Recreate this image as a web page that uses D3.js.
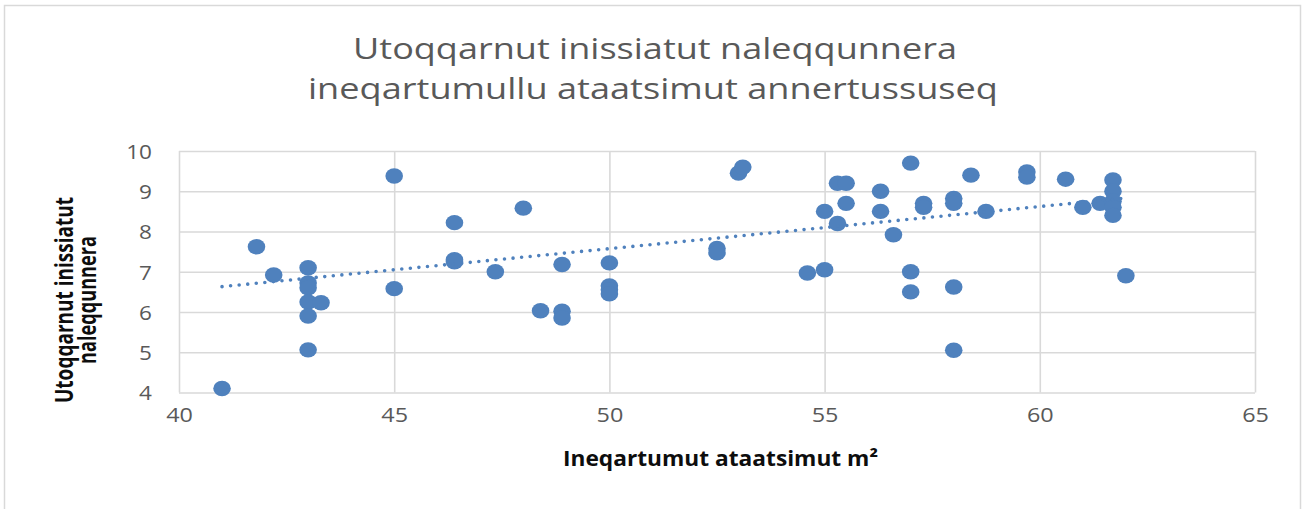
<!DOCTYPE html>
<html lang="kl">
  <head>
    <meta charset="utf-8" />
    <title>Utoqqarnut inissiatut</title>
    <style>
      body { margin: 0; background: #fff; }
      svg { display: block; }
    </style>
  </head>
  <body>
    <svg id="chart"></svg>
    <script src="https://cdn.jsdelivr.net/npm/d3@7"></script>
    <script>
        var width = 1303;
        var height = 509;

        // ineqartumut ataatsimut m2 (x) and naleqqunnera (y)
        var area = [41.0, 41.8, 42.2, 43, 43, 43, 43, 43.3, 43, 43,
                    45, 45, 46.4, 46.4, 46.4, 47.35, 48, 48.4, 48.9, 48.9,
                    48.9, 50, 50, 50, 50, 52.5, 52.5, 53, 53.1, 54.6,
                    55, 55, 55.3, 55.3, 55.5, 55.5, 56.3, 56.3, 56.6, 57,
                    57, 57, 57.3, 57.3, 58, 58, 58, 58, 58.4, 58.75,
                    59.7, 59.7, 60.6, 61, 61.4, 61.7, 61.7, 61.7, 61.7, 61.7,
                    62];
        var rating = [4.1, 7.62, 6.92, 7.1, 6.72, 6.6, 6.25, 6.23, 5.9, 5.06,
                      9.38, 6.58, 8.22, 7.3, 7.25, 7.0, 8.58, 6.03, 7.18, 6.02,
                      5.85, 7.22, 6.65, 6.55, 6.45, 7.58, 7.47, 9.45, 9.6, 6.97,
                      7.05, 8.5, 8.2, 9.2, 9.2, 8.7, 9.0, 8.5, 7.92, 9.7,
                      7.0, 6.5, 8.7, 8.6, 8.82, 8.7, 6.62, 5.05, 9.4, 8.5,
                      9.48, 9.35, 9.3, 8.6, 8.7, 9.28, 9.0, 8.75, 8.6, 8.4,
                      6.9];

        // linear trendline ends as drawn in the picture
        var trendArea = [41, 62];
        var trendRating = [6.63, 8.83];

        var xTicks = [40, 45, 50, 55, 60, 65];
        var yTicks = [4, 5, 6, 7, 8, 9, 10];
        var titleLines = ["Utoqqarnut inissiatut naleqqunnera", "ineqartumullu ataatsimut annertussuseq"];
        var xTitle = "Ineqartumut ataatsimut m²";
        var yTitleLines = ["Utoqqarnut inissiatut", "naleqqunnera"];

        var blue = "#4f81bd";
        var grid = "#d9d9d9";
        var textGray = "#595959";

        var points = area.map(function(d, i) { return {x: d, y: rating[i]}; });
        var trend = trendArea.map(function(d, i) { return {x: d, y: trendRating[i]}; });

        var svg = d3.select("#chart")
            .attr("width", width)
            .attr("height", height)
            .style("font-family", "'Open Sans', sans-serif");

        svg.append("rect")
            .attr("x", 4.5).attr("y", 5.5)
            .attr("width", 1296).attr("height", 520)
            .attr("fill", "#fff")
            .attr("stroke", grid)
            .attr("stroke-width", 1.5);

        var x = d3.scaleLinear().domain([40, 65]).range([179, 1255]);
        var y = d3.scaleLinear().domain([4, 10]).range([392.5, 151]);

        // stretch a text to a given width (the picture is a little wider than tall)
        function fit(sel, len) {
            sel.attr("textLength", len).attr("lengthAdjust", "spacingAndGlyphs");
        }

        // gridlines
        svg.append("g")
            .attr("transform", "translate(0," + y(4) + ")")
            .call(d3.axisBottom(x).tickValues(xTicks).tickSize(-(y(4) - y(10))).tickFormat(""))
            .call(function(g) {
                g.select(".domain").remove();
                g.selectAll("line").attr("stroke", grid).attr("stroke-width", 1.6);
            });
        svg.append("g")
            .attr("transform", "translate(" + x(40) + ",0)")
            .call(d3.axisLeft(y).tickValues(yTicks).tickSize(-(x(65) - x(40))).tickFormat(""))
            .call(function(g) {
                g.select(".domain").remove();
                g.selectAll("line").attr("stroke", grid).attr("stroke-width", 1.6);
            });

        // tick labels
        var xAxis = svg.append("g")
            .attr("transform", "translate(0," + (y(4) + 15) + ")")
            .call(d3.axisBottom(x).tickValues(xTicks).tickSize(0).tickPadding(0).tickFormat(d3.format("d")));
        xAxis.select(".domain").remove();
        xAxis.selectAll("text")
            .attr("dy", "0.72em")
            .attr("fill", textGray)
            .style("font-size", "20.5px")
            .style("font-family", "'Open Sans', sans-serif")
            .each(function() { fit(d3.select(this), this.getComputedTextLength() * 1.14); });

        var yAxis = svg.append("g")
            .attr("transform", "translate(152,0)")
            .call(d3.axisLeft(y).tickValues(yTicks).tickSize(0).tickPadding(0).tickFormat(d3.format("d")));
        yAxis.select(".domain").remove();
        yAxis.selectAll("text")
            .attr("dy", "0.36em")
            .attr("fill", textGray)
            .style("font-size", "20.5px")
            .style("font-family", "'Open Sans', sans-serif")
            .each(function() { fit(d3.select(this), this.getComputedTextLength() * 1.1); });

        // points
        svg.append("g")
            .selectAll("ellipse")
            .data(points)
            .enter()
            .append("ellipse")
            .attr("cx", function(d) { return x(d.x); })
            .attr("cy", function(d) { return y(d.y); })
            .attr("rx", 8.8)
            .attr("ry", 7.7)
            .attr("fill", blue);

        svg.append("path")
            .datum(trend)
            .attr("d", d3.line().x(function(d) { return x(d.x); }).y(function(d) { return y(d.y); }))
            .attr("fill", "none")
            .attr("stroke", blue)
            .attr("stroke-width", 3.6)
            .attr("stroke-linecap", "round")
            .attr("stroke-dasharray", "0 8.6");

        // title
        var titleY = [59.3, 98.5];
        var titleW = [604, 690];
        var titleX = [655, 653];
        titleLines.forEach(function(t, i) {
            svg.append("text")
                .attr("x", titleX[i])
                .attr("y", titleY[i])
                .attr("text-anchor", "middle")
                .attr("fill", textGray)
                .style("font-size", "29.5px")
                .text(t)
                .call(fit, titleW[i]);
        });

        // axis titles
        svg.append("text")
            .attr("x", 720.5)
            .attr("y", 465.5)
            .attr("text-anchor", "middle")
            .attr("fill", "#0d0d0d")
            .style("font-size", "21px")
            .style("font-weight", "bold")
            .text(xTitle)
            .call(fit, 315);

        var yTitleX = [72.5, 96];
        var yTitleW = [206, 128];
        yTitleLines.forEach(function(t, i) {
            svg.append("text")
                .attr("transform", "translate(" + yTitleX[i] + ",300) rotate(-90)")
                .attr("text-anchor", "middle")
                .attr("fill", "#0d0d0d")
                .style("font-size", "25px")
                .style("font-weight", "bold")
                .text(t)
                .call(fit, yTitleW[i]);
        });
    </script>
  </body>
</html>
